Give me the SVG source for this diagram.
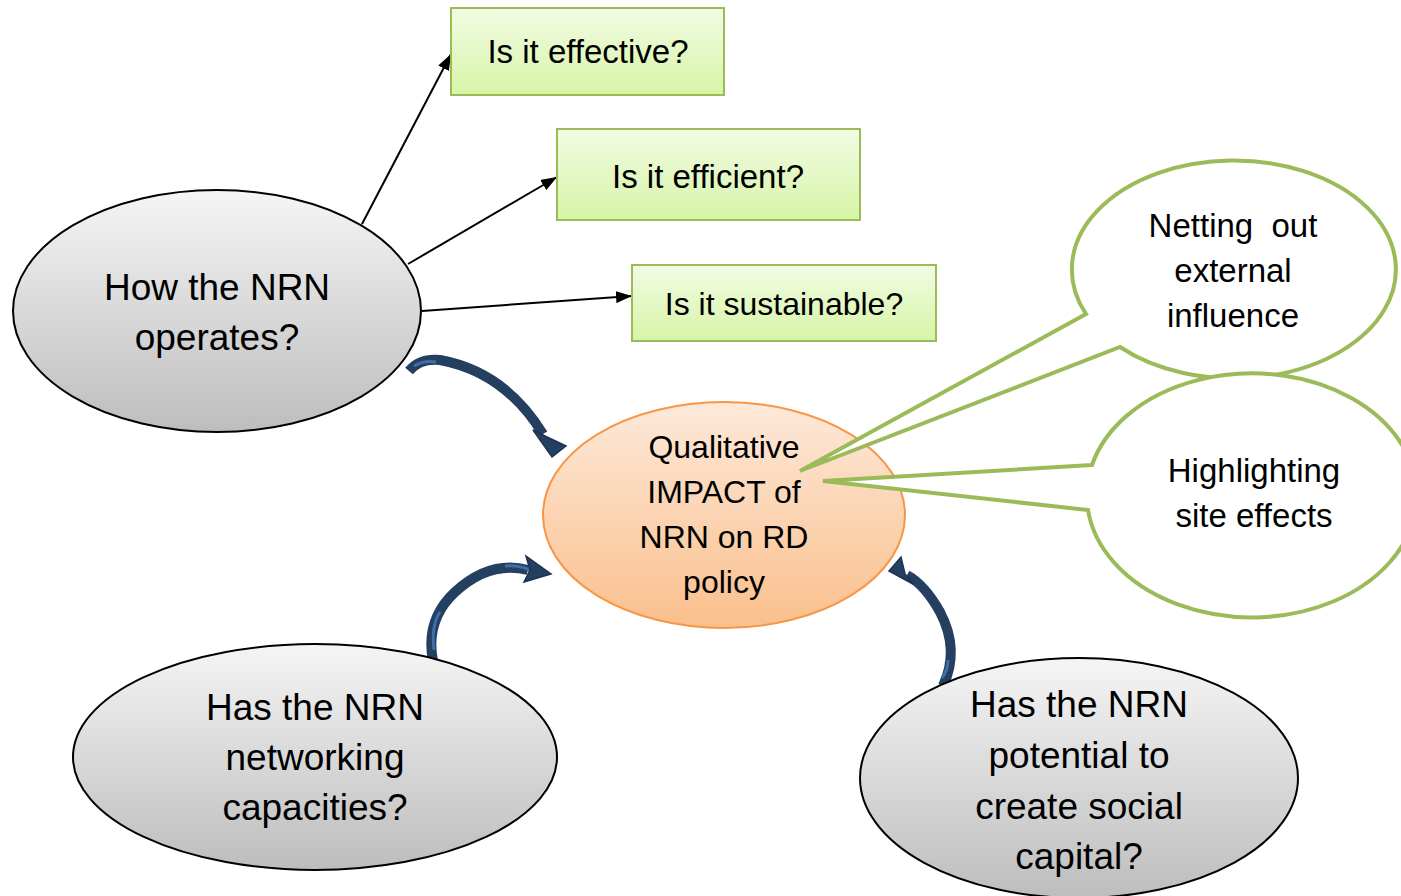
<svg xmlns="http://www.w3.org/2000/svg" width="1401" height="896" viewBox="0 0 1401 896">
<style>
  text { font-family: "Liberation Sans", Arial, sans-serif; fill: #000; text-anchor: middle; }
  .box { fill: url(#gGreen); stroke: #9bbb59; stroke-width: 2; }
  .gray { fill: url(#gGray); stroke: #000; stroke-width: 2; }
  .orange { fill: url(#gOrange); stroke: #f79646; stroke-width: 2; }
  .callout { fill: #fff; stroke: #9bbb59; stroke-width: 4; stroke-linejoin: miter; }
  .line { stroke: #000; stroke-width: 2; fill: none; marker-end: url(#tri); }
  .curve { stroke: #243f60; stroke-width: 10; fill: none; stroke-linecap: butt; }
  .curveHi { stroke: #3f6ea8; stroke-width: 3; fill: none; }
  .head { fill: #243f60; stroke: #1c3350; stroke-width: 1.5; stroke-linejoin: miter; }
</style>
<defs>
  <linearGradient id="gGreen" x1="0" y1="0" x2="0" y2="1">
    <stop offset="0" stop-color="#f2fbe4"/>
    <stop offset="1" stop-color="#d6f5a6"/>
  </linearGradient>
  <linearGradient id="gGray" x1="0" y1="0" x2="0" y2="1">
    <stop offset="0" stop-color="#f5f5f5"/>
    <stop offset="1" stop-color="#bdbdbd"/>
  </linearGradient>
  <linearGradient id="gOrange" x1="0" y1="0" x2="0" y2="1">
    <stop offset="0" stop-color="#fde9da"/>
    <stop offset="1" stop-color="#fabf8c"/>
  </linearGradient>
  <marker id="tri" viewBox="0 0 16 12" refX="16" refY="6" markerWidth="16" markerHeight="12" markerUnits="userSpaceOnUse" orient="auto">
    <path d="M0 0 L16 6 L0 12 Z" fill="#000"/>
  </marker>
</defs>

<g id="connectors">
  <line class="line" x1="362" y1="224" x2="451" y2="54"/>
  <line class="line" x1="408" y1="264" x2="557" y2="177"/>
  <line class="line" x1="422" y1="311" x2="632" y2="296"/>
  <g id="curve1">
    <path class="curve" d="M409 371 Q420 358 440 360 Q505 372 543 434"/>
    <path class="curveHi" d="M414 366 Q424 360 436 362"/>
    <polygon class="head" points="533,430 547,437 566,446 552,457"/>
  </g>
  <g id="curve2">
    <path class="curve" d="M433 661 Q425 620 455 592 Q490 560 528 570"/>
    <path class="curveHi" d="M434 650 Q431 625 440 612"/>
    <path class="curveHi" d="M505 566 Q518 565 530 570"/>
    <polygon class="head" points="526,556 551,574 524,582 530,570"/>
  </g>
  <g id="curve3">
    <path class="curve" d="M943 686 Q960 650 940 612 Q925 585 907 575"/>
    <path class="curveHi" d="M942 678 Q948 670 948 660"/>
    <polygon class="head" points="889,571 901,557 905,574 913,584"/>
  </g>
</g>

<g id="box-effective">
  <rect class="box" x="451" y="8" width="273" height="87"/>
  <text x="588" y="63" font-size="33">Is it effective?</text>
</g>
<g id="box-efficient">
  <rect class="box" x="557" y="129" width="303" height="91"/>
  <text x="708" y="188" font-size="33">Is it efficient?</text>
</g>
<g id="box-sustainable">
  <rect class="box" x="632" y="265" width="304" height="76"/>
  <text x="784" y="315" font-size="32">Is it sustainable?</text>
</g>

<g id="node-operates">
  <ellipse class="gray" cx="217" cy="311" rx="204" ry="121"/>
  <text x="217" y="300" font-size="37">How the NRN</text>
  <text x="217" y="350" font-size="37">operates?</text>
</g>

<g id="node-impact">
  <ellipse class="orange" cx="724" cy="515" rx="181" ry="113"/>
  <text x="724" y="458" font-size="32">Qualitative</text>
  <text x="724" y="503" font-size="32">IMPACT of</text>
  <text x="724" y="548" font-size="32">NRN on RD</text>
  <text x="724" y="593" font-size="32">policy</text>
</g>

<g id="callout-netting">
  <path class="callout" d="M1086 314 L800 471 L1120 347 A162 109 0 1 0 1086 314 Z"/>
  <text x="1233" y="237" font-size="33" style="white-space:pre">Netting  out</text>
  <text x="1233" y="282" font-size="33">external</text>
  <text x="1233" y="327" font-size="33">influence</text>
</g>

<g id="callout-highlighting">
  <path class="callout" d="M1092 465 L823 481 L1088 510 A165 122 0 1 0 1092 465 Z"/>
  <text x="1254" y="482" font-size="33">Highlighting</text>
  <text x="1254" y="527" font-size="33">site effects</text>
</g>

<g id="node-networking">
  <ellipse class="gray" cx="315" cy="757" rx="242" ry="113"/>
  <text x="315" y="720" font-size="37">Has the NRN</text>
  <text x="315" y="770" font-size="37">networking</text>
  <text x="315" y="820" font-size="37">capacities?</text>
</g>

<g id="node-social">
  <ellipse class="gray" cx="1079" cy="778" rx="219" ry="120"/>
  <text x="1079" y="717" font-size="37">Has the NRN</text>
  <text x="1079" y="768" font-size="37">potential to</text>
  <text x="1079" y="819" font-size="37">create social</text>
  <text x="1079" y="869" font-size="37">capital?</text>
</g>
</svg>
